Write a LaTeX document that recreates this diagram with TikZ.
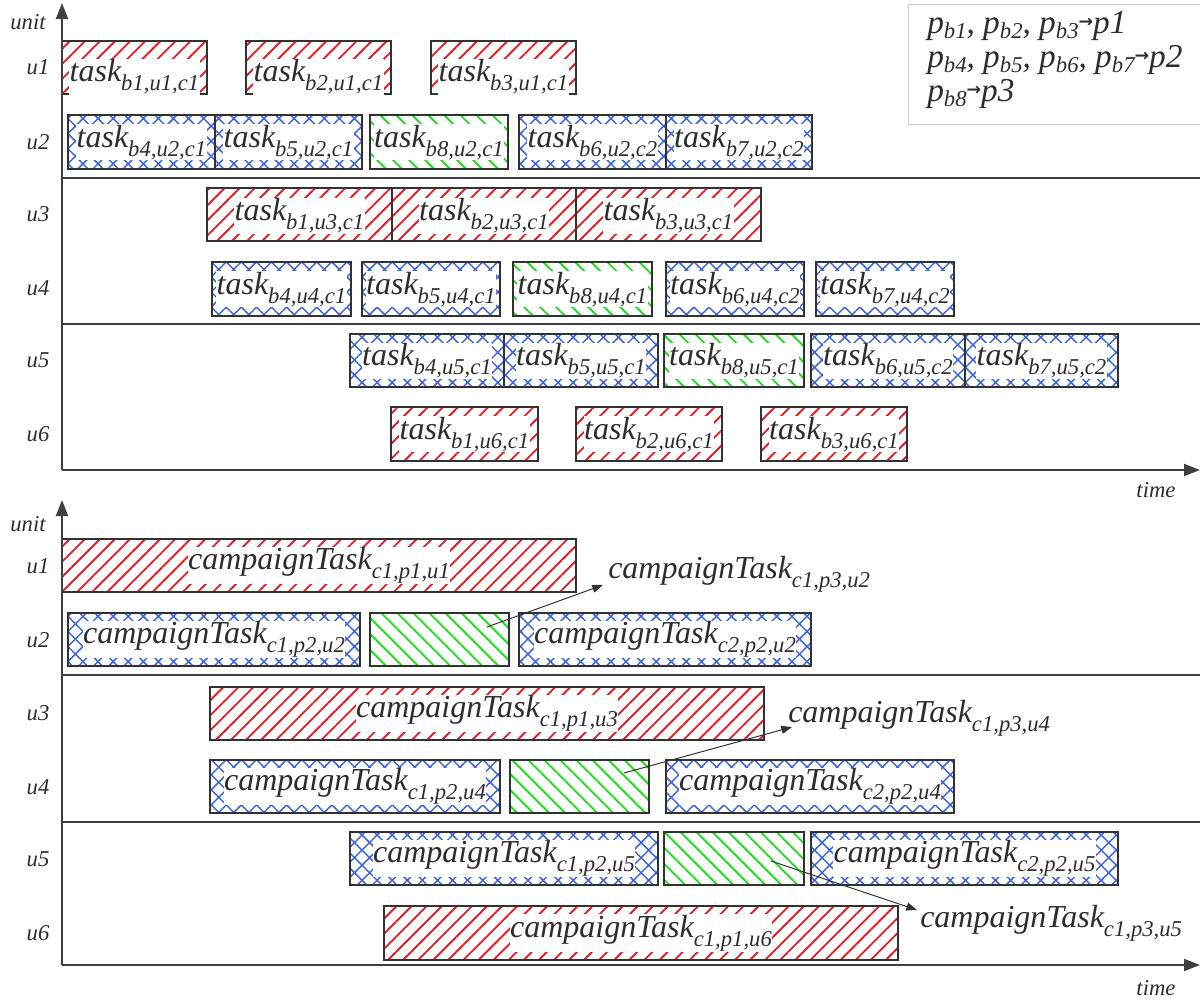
\documentclass[tikz,border=0pt]{standalone}
\usepackage{fontspec}
\setmainfont{Liberation Serif}
\newfontfamily\djv{DejaVu Sans}
\usetikzlibrary{patterns.meta,arrows.meta}
\definecolor{hred}{RGB}{228,30,30}
\definecolor{hblue}{RGB}{60,100,220}
\definecolor{hgreen}{RGB}{30,220,30}
\definecolor{edge}{RGB}{50,50,50}
\definecolor{ink}{RGB}{45,45,45}
\newcommand\sbs[1]{\raisebox{-7pt}{\fontsize{17}{17}\selectfont #1}}
\newcommand\lsb[1]{\raisebox{-4pt}{\fontsize{17}{17}\selectfont #1}}
\newcommand\arr{\raisebox{4pt}{\djv\bfseries\fontsize{13}{13}\selectfont →}}
\newcommand\gbx[8]{%
  \node[#2, minimum width={(#4-#3)*0.75pt}, minimum height={(#6-#5)*0.75pt}] (#1) at ({(#3+#4)/2},{(#5+#6)/2}) {};
  \node[lbl, anchor=base] (#1t) at ({(#3+#4)/2},{(#5+#6)/2+#7}) {#8};}
\newcommand\ebx[6]{%
  \node[#2, minimum width={(#4-#3)*0.75pt}, minimum height={(#6-#5)*0.75pt}] (#1) at ({(#3+#4)/2},{(#5+#6)/2}) {};}
\begin{document}
\begin{tikzpicture}[x=0.75pt,y=-0.75pt,
  box/.style={draw=edge, line width=1.5pt, inner sep=0pt, outer sep=0pt},
  rbox/.style={box, pattern={Lines[angle=45,distance=8pt,line width=1.4pt]}, pattern color=hred},
  bbox/.style={box, pattern={Hatch[angle=45,distance=8pt,line width=1.1pt]}, pattern color=hblue},
  gbox/.style={box, pattern={Lines[angle=-45,distance=8.5pt,line width=1.4pt]}, pattern color=hgreen},
  lbl/.style={fill=white, inner sep=0.3pt, text=ink, font=\fontsize{24}{24}\selectfont\itshape},
  ann/.style={inner sep=0pt, text=ink, font=\fontsize{24}{24}\selectfont\itshape},
  leg/.style={inner sep=0pt, text=ink, font=\fontsize{25}{25}\selectfont\itshape},
  rl/.style={inner sep=0pt, font=\fontsize{17}{17}\selectfont\itshape, text=ink},
  axis/.style={draw=black!75, line width=1.5pt, -{Triangle[length=12pt,width=9pt]}},
  sepl/.style={draw=black!75, line width=1.5pt},
  annarrow/.style={draw=black!80, line width=0.75pt, -{Triangle[length=8pt,width=6pt]}}]
\useasboundingbox (0,0) rectangle (1200,1001);

% ---------- top chart ----------
\coordinate (o1) at (62,470);
\coordinate (yt1) at (62,3);
\coordinate (xt1) at (1200,470);
\draw[sepl] (62,178) -- (1200,178);
\draw[sepl] (62,324) -- (1200,324);

\gbx{a11}{rbox}{62}{207}{41}{94}{14}{task\sbs{b1,u1,c1}}
\gbx{a12}{rbox}{246}{391}{41}{94}{14}{task\sbs{b2,u1,c1}}
\gbx{a13}{rbox}{431}{576}{41}{94}{14}{task\sbs{b3,u1,c1}}

\gbx{a21}{bbox}{68}{215}{115}{169}{5}{task\sbs{b4,u2,c1}}
\gbx{a22}{bbox}{215}{362}{115}{169}{5}{task\sbs{b5,u2,c1}}
\gbx{a23}{gbox}{370}{508}{115}{169}{5}{task\sbs{b8,u2,c1}}
\gbx{a24}{bbox}{519}{666}{115}{169}{5}{task\sbs{b6,u2,c2}}
\gbx{a25}{bbox}{666}{812}{115}{169}{5}{task\sbs{b7,u2,c2}}

\gbx{a31}{rbox}{207}{392}{188}{241}{6}{task\sbs{b1,u3,c1}}
\gbx{a32}{rbox}{392}{576}{188}{241}{6}{task\sbs{b2,u3,c1}}
\gbx{a33}{rbox}{576}{761}{188}{241}{6}{task\sbs{b3,u3,c1}}

\gbx{a41}{bbox}{212}{351}{262}{316}{5}{task\sbs{b4,u4,c1}}
\gbx{a42}{bbox}{362}{500}{262}{316}{5}{task\sbs{b5,u4,c1}}
\gbx{a43}{gbox}{513}{652}{262}{316}{5}{task\sbs{b8,u4,c1}}
\gbx{a44}{bbox}{666}{804}{262}{316}{5}{task\sbs{b6,u4,c2}}
\gbx{a45}{bbox}{816}{954}{262}{316}{5}{task\sbs{b7,u4,c2}}

\gbx{a51}{bbox}{350}{504}{334}{387}{5}{task\sbs{b4,u5,c1}}
\gbx{a52}{bbox}{504}{658}{334}{387}{5}{task\sbs{b5,u5,c1}}
\gbx{a53}{gbox}{664}{804}{334}{387}{5}{task\sbs{b8,u5,c1}}
\gbx{a54}{bbox}{811}{965}{334}{387}{5}{task\sbs{b6,u5,c2}}
\gbx{a55}{bbox}{965}{1118}{334}{387}{5}{task\sbs{b7,u5,c2}}

\gbx{a61}{rbox}{391}{538}{407}{461}{5}{task\sbs{b1,u6,c1}}
\gbx{a62}{rbox}{576}{722}{407}{461}{5}{task\sbs{b2,u6,c1}}
\gbx{a63}{rbox}{761}{907}{407}{461}{5}{task\sbs{b3,u6,c1}}

\draw[axis] (o1) -- (yt1);
\draw[axis] (o1) -- (xt1);
\node[rl] (unit1) at (28,22) {unit};
\node[rl] (time1) at (1156,490) {time};
\node[rl] (r11) at (38,67) {u1};
\node[rl] (r12) at (38,142) {u2};
\node[rl] (r13) at (38,214) {u3};
\node[rl] (r14) at (38,288) {u4};
\node[rl] (r15) at (38,360) {u5};
\node[rl] (r16) at (38,434) {u6};

\node[draw=black!20, line width=0.75pt, anchor=north west, minimum width=300*0.75pt, minimum height=120*0.75pt, inner sep=0pt] (legend) at (908,4) {};
\node[leg, anchor=base west] (lg1) at (927,33) {p\lsb{b1}, p\lsb{b2}, p\lsb{b3}\arr p1};
\node[leg, anchor=base west] (lg2) at (927,67) {p\lsb{b4}, p\lsb{b5}, p\lsb{b6}, p\lsb{b7}\arr p2};
\node[leg, anchor=base west] (lg3) at (927,101) {p\lsb{b8}\arr p3};

% ---------- bottom chart ----------
\coordinate (o2) at (62,965);
\coordinate (yt2) at (62,500);
\coordinate (xt2) at (1200,965);
\draw[sepl] (62,675) -- (1200,675);
\draw[sepl] (62,822) -- (1200,822);

\gbx{c11}{rbox}{62}{576}{539}{592}{4}{campaignTask\sbs{c1,p1,u1}}
\gbx{c21}{bbox}{68}{360}{613}{666}{4}{campaignTask\sbs{c1,p2,u2}}
\ebx{c22}{gbox}{370}{509}{613}{666}
\gbx{c23}{bbox}{519}{811}{613}{666}{4}{campaignTask\sbs{c2,p2,u2}}
\gbx{c31}{rbox}{210}{764}{687}{740}{4}{campaignTask\sbs{c1,p1,u3}}
\gbx{c41}{bbox}{210}{500}{760}{813}{4}{campaignTask\sbs{c1,p2,u4}}
\ebx{c42}{gbox}{510}{649}{760}{813}
\gbx{c43}{bbox}{666}{954}{760}{813}{4}{campaignTask\sbs{c2,p2,u4}}
\gbx{c51}{bbox}{350}{658}{832}{885}{4}{campaignTask\sbs{c1,p2,u5}}
\ebx{c52}{gbox}{664}{804}{832}{885}
\gbx{c53}{bbox}{811}{1118}{832}{885}{4}{campaignTask\sbs{c2,p2,u5}}
\gbx{c61}{rbox}{384}{898}{906}{960}{4}{campaignTask\sbs{c1,p1,u6}}

\draw[axis] (o2) -- (yt2);
\draw[axis] (o2) -- (xt2);
\node[rl] (unit2) at (28,524) {unit};
\node[rl] (time2) at (1156,988) {time};
\node[rl] (r21) at (38,566) {u1};
\node[rl] (r22) at (38,640) {u2};
\node[rl] (r23) at (38,713) {u3};
\node[rl] (r24) at (38,787) {u4};
\node[rl] (r25) at (38,859) {u5};
\node[rl] (r26) at (38,933) {u6};

\node[ann, anchor=base west] (n2) at (608,578) {campaignTask\sbs{c1,p3,u2}};
\node[ann, anchor=base west] (n4) at (788,722) {campaignTask\sbs{c1,p3,u4}};
\node[ann, anchor=base west] (n5) at (920,927) {campaignTask\sbs{c1,p3,u5}};
\coordinate (s2) at (487,627);
\coordinate (e2) at (603,585);
\coordinate (s4) at (624,773);
\coordinate (e4) at (792,727);
\coordinate (s5) at (771,861);
\coordinate (e5) at (917,910);
\draw[annarrow] (s2) -- (e2);
\draw[annarrow] (s4) -- (e4);
\draw[annarrow] (s5) -- (e5);
\end{tikzpicture}
\end{document}
